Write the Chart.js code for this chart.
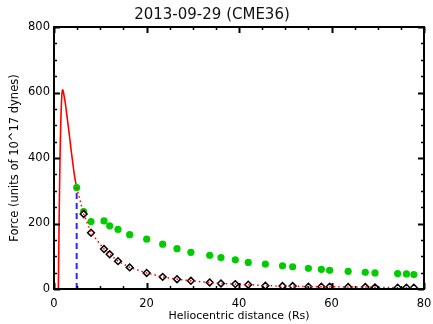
<!DOCTYPE html>
<html>
<head>
<meta charset="utf-8">
<script src="https://cdn.jsdelivr.net/npm/chart.js@4/dist/chart.umd.min.js"></script>
<style>
  html, body { margin: 0; padding: 0; background: #fff; }
  #wrap { width: 433px; height: 324px; }
</style>
</head>
<body>
<div id="wrap"><canvas id="c" width="433" height="324"></canvas></div>
<script>
// ---- data ----
const titleText = "2013-09-29 (CME36)";
const xTitle = "Heliocentric distance (Rs)";
const yTitle = "Force (units of 10^17 dynes)";

// model force curve (solid red)
const curveX = [0.93, 1.0, 1.1, 1.2, 1.3, 1.4, 1.5, 1.6, 1.7, 1.8, 1.9, 2.0, 2.2, 2.5, 2.73, 3.1, 3.45, 3.8, 4.17, 4.5, 4.89];
const curveY = [0, 80, 200, 310, 400, 470, 525, 565, 592, 606, 608, 603, 588, 562, 536, 495, 455, 413, 373, 340, 310];

// observation distances
const distX = [4.90, 6.41, 8.0, 10.81, 12.04, 13.84, 16.36, 20.04, 23.5, 26.6, 29.6, 33.66, 36.1, 39.2, 42.0, 45.7, 49.4, 51.6, 55.0, 57.8, 59.6, 63.6, 67.3, 69.4, 74.3, 76.2, 77.8];
// green filled circles
const greenY = [310, 236, 206, 208, 193, 182, 166, 152, 137, 123, 112, 103, 96, 89, 81, 76, 71, 68, 63, 60, 57, 54, 51, 49, 47, 46, 44];
// open diamonds (from 2nd distance onward)
const diamondY = [229, 172, 122, 106, 85, 66, 49, 37, 30, 25, 20, 17, 15, 13, 10, 9, 9, 7, 7, 7, 6, 6, 5, 4, 4, 4];
// blue dashed marker position
const markX = [4.90, 4.90];
const markY = [0, 310];

const xTicks = [0, 20, 40, 60, 80];
const yTicks = [0, 200, 400, 600, 800];

// ---- build datasets ----
const pts = (xs, ys) => ys.map((y, i) => ({ x: xs[i], y: y }));
const curveData = pts(curveX, curveY);
const greenData = pts(distX, greenY);
const diamondData = pts(distX.slice(1), diamondY);
const dottedData = [{ x: distX[0], y: greenY[0] }].concat(diamondData);
const markData = pts(markX, markY);

const FONT = "'DejaVu Sans', sans-serif";

const framePlugin = {
  id: 'frame',
  afterDatasetsDraw(chart) {
    const ctx = chart.ctx;
    const a = chart.chartArea;
    const xs = chart.scales.x, ys = chart.scales.y;
    ctx.save();
    ctx.strokeStyle = '#000';
    for (let v = 0; v <= 80; v += 5) {
      const px = Math.round(xs.getPixelForValue(v)) + 0.5;
      const len = (v % 20 === 0) ? 6 : 3;
      ctx.beginPath();
      ctx.moveTo(px, a.bottom); ctx.lineTo(px, a.bottom - len);
      ctx.moveTo(px, a.top); ctx.lineTo(px, a.top + len);
      ctx.lineWidth = (v % 20 === 0) ? 2 : 1.5;
      ctx.stroke();
    }
    for (let v = 0; v <= 800; v += 50) {
      const py = Math.round(ys.getPixelForValue(v)) + 0.5;
      const len = (v % 200 === 0) ? 6 : 3;
      ctx.beginPath();
      ctx.moveTo(a.left, py); ctx.lineTo(a.left + len, py);
      ctx.moveTo(a.right, py); ctx.lineTo(a.right - len, py);
      ctx.lineWidth = (v % 200 === 0) ? 2 : 1.5;
      ctx.stroke();
    }
    ctx.lineWidth = 2;
    ctx.strokeRect(a.left, a.top, a.right - a.left, a.bottom - a.top);
    ctx.restore();
  }
};

new Chart(document.getElementById('c'), {
  type: 'scatter',
  data: {
    datasets: [
      {
        data: dottedData, showLine: true, borderColor: '#ff0000', borderWidth: 1.5,
        borderDash: [1.5, 3], pointRadius: 0, fill: false, order: 1
      },
      {
        data: diamondData, showLine: false, pointStyle: 'rectRot', pointRadius: 3.4,
        pointBackgroundColor: '#ffffff', pointBorderColor: '#000000', pointBorderWidth: 1.5, order: 2
      },
      {
        data: greenData, showLine: false, pointStyle: 'circle', pointRadius: 3.6,
        pointBackgroundColor: '#00cc00', pointBorderColor: '#00cc00', pointBorderWidth: 0, order: 3
      },
      {
        data: curveData, showLine: true, borderColor: '#ff0000', borderWidth: 1.6,
        pointRadius: 0, tension: 0.3, cubicInterpolationMode: 'monotone', fill: false, order: 4
      },
      {
        data: markData, showLine: true, borderColor: '#2a2aff', borderWidth: 2,
        borderDash: [6, 4], pointRadius: 0, fill: false, order: 5
      }
    ]
  },
  options: {
    responsive: false,
    animation: false,
    devicePixelRatio: 1,
    layout: { padding: { left: 0, right: 9, top: 0, bottom: 0 } },
    plugins: {
      legend: { display: false },
      tooltip: { enabled: false },
      title: {
        display: true, text: titleText, color: '#111',
        font: { family: FONT, size: 15, weight: 'normal', lineHeight: 1.2 },
        padding: { top: 6, bottom: 3 }
      }
    },
    scales: {
      x: {
        type: 'linear', min: 0, max: 80,
        afterFit(s) { s.height = 35; s.paddingLeft = 0; s.paddingRight = 0; },
        afterBuildTicks(s) { s.ticks = xTicks.map(v => ({ value: v })); },
        grid: { display: false, drawTicks: false },
        border: { display: false },
        ticks: { color: '#000', padding: 8, maxRotation: 0, font: { family: FONT, size: 11.5 } },
        title: {
          display: true, text: xTitle, color: '#000',
          font: { family: FONT, size: 11, lineHeight: 1.2 },
          padding: { top: 0, bottom: 1 }
        }
      },
      y: {
        type: 'linear', min: 0, max: 800,
        afterFit(s) { s.width = 54; s.paddingTop = 0; s.paddingBottom = 0; },
        afterBuildTicks(s) { s.ticks = yTicks.map(v => ({ value: v })); },
        grid: { display: false, drawTicks: false },
        border: { display: false },
        ticks: { color: '#000', padding: 4, font: { family: FONT, size: 11.5 } },
        title: {
          display: true, text: yTitle, color: '#000',
          font: { family: FONT, size: 11.5, lineHeight: 1.2 },
          padding: { top: 8, bottom: 0 }
        }
      }
    }
  },
  plugins: [framePlugin]
});
</script>
</body>
</html>
